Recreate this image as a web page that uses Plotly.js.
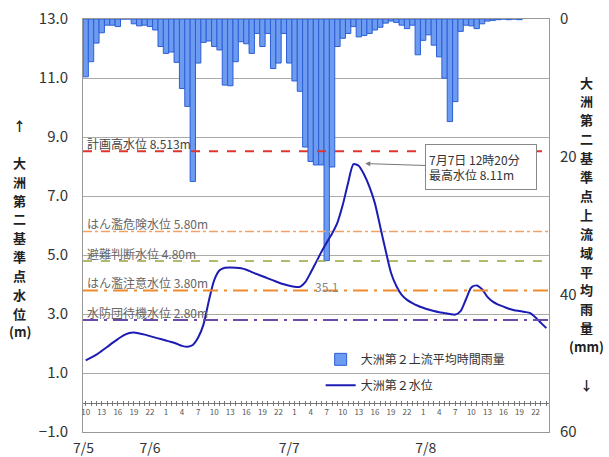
<!DOCTYPE html>
<html><head><meta charset="utf-8">
<script src="https://cdn.plot.ly/plotly-3.0.1.min.js"></script>
<style>html,body{margin:0;padding:0;background:#fff}#chart{width:609px;height:457px}</style>
</head><body><div id="chart"></div>
<script>
// hours counted from 7/5 0:00
const hours = [10,11,12,13,14,15,16,17,18,19,20,21,22,23,24,25,26,27,28,29,30,31,32,33,34,35,36,37,38,39,40,41,42,43,44,45,46,47,48,49,50,51,52,53,54,55,56,57,58,59,60,61,62,63,64,65,66,67,68,69,70,71,72,73,74,75,76,77,78,79,80,81,82,83,84,85,86,87,88,89,90,91,92,93,94,95,96];
const waterLevel = [1.43,1.52,1.62,1.75,1.88,2.02,2.15,2.27,2.35,2.37,
  2.34,2.30,2.25,2.20,2.15,2.10,2.05,1.99,1.92,1.89,
  1.95,2.20,2.65,3.45,4.15,4.48,4.57,4.58,4.57,4.55,
  4.50,4.42,4.35,4.28,4.21,4.14,4.07,4.01,3.96,3.92,
  3.92,4.08,4.40,4.75,5.10,5.42,5.73,6.10,6.70,7.45,
  8.08,8.02,7.72,7.30,6.75,5.95,5.15,4.40,3.95,3.65,
  3.48,3.37,3.28,3.21,3.15,3.10,3.06,3.03,3.00,2.98,
  3.10,3.50,3.90,3.97,3.84,3.58,3.42,3.32,3.25,3.18,
  3.13,3.10,3.07,3.03,2.88,2.70,2.52];
const rainHours = [10,11,12,13,14,15,16,17,18,19,20,21,22,23,24,25,26,27,28,29,30,31,32,33,34,35,36,37,38,39,40,41,42,43,44,45,46,47,48,49,50,51,52,53,54,55,56,57,58,59,60,61,62,63,64,65,66,67,68,69,70,71,72,73,74,75,76,77,78,79,80,81,82,83,84,85,86,87,88,89,90,91];
const rainfall = [8.4,6.2,3.5,2.0,0.9,0.9,1.1,0,0,0.7,
  1.0,0.9,1.1,1.6,4.0,5.0,4.8,6.3,10.1,12.7,
  23.6,6.4,3.4,3.2,4.0,4.5,9.6,9.7,6.2,3.3,
  3.6,5.0,2.1,4.0,2.1,7.2,6.4,2.1,6.4,9.0,
  10.5,18.6,20.7,21.2,21.2,35.1,21.5,4.0,2.8,2.1,
  1.1,2.6,2.4,2.1,1.6,1.2,0.6,0.3,0.5,0.9,
  1.4,0.9,5.2,3.1,2.3,3.8,5.5,8.6,14.9,12.0,
  1.8,0.9,1.0,1.4,0.7,0.3,0.2,0.1,0,0.1,
  0,0.1];
const hourTickVals = [10,13,16,19,22,25,28,31,34,37,40,43,46,49,52,55,58,61,64,67,70,73,76,79,82,85,88,91,94];
const hourTickText = ['10','13','16','19','22','1','4','7','10','13','16','19','22','1','4','7','10','13','16','19','22','1','4','7','10','13','16','19','22'];
const dateLabels = ['7/5','7/6','7/7','7/8'];
const dateTickHours = [9.6,22,48,73.5];
const levelTicks = [-1,1,3,5,7,9,11,13];
const rainTicks = [0,20,40,60];
const thresholdNames = ['計画高水位','はん濫危険水位','避難判断水位','はん濫注意水位','水防団待機水位'];
const thresholdLevels = [8.513,5.80,4.80,3.80,2.80];
const thresholdDecimals = [3,2,2,2,2];
const thresholdColors = ['#e3342c','#f2a064','#9aa23c','#f08a2c','#6a4ca8'];
const thresholdDashes = ['dash','dashdot','dash','longdashdot','longdashdot'];
const peakTime = 60.33;
const peakLevel = 8.11;
const peakLabel = '7月7日 12時20分';
const rainName = '大洲第２上流平均時間雨量';
const levelName = '大洲第２水位';
const leftTitle = ['↑','','大','洲','第','二','基','準','点','水','位','(m)'];
const rightTitle = ['大','洲','第','二','基','準','点','上','流','域','平','均','雨','量','(mm)','','↓'];

const FONT = '"Noto Sans CJK JP", "Noto Sans", sans-serif';
const XR = [9.5,96.5];
const LV = [-1,13];
const zeroPos = (0-LV[0])/(LV[1]-LV[0]);
const PLOT_H = 413, PLOT_W = 466, M_L = 83, M_T = 19;

const traces = [
  {type:'bar', x:rainHours, y:rainfall, name:rainName, xaxis:'x', yaxis:'y', width:1,
   marker:{color:'#6c9bf0', line:{color:'#2c5fd8', width:1}}, legendgroup:'r', hoverinfo:'skip'},
  {type:'scatter', mode:'lines', x:hours, y:waterLevel, name:levelName, xaxis:'x', yaxis:'y2',
   line:{color:'#1c1cb4', width:2, shape:'spline', smoothing:0.7}, legendgroup:'l', hoverinfo:'skip'},
  {type:'scatter', mode:'none', x:[hours[0]], y:[null], xaxis:'x2', yaxis:'y2', showlegend:false, hoverinfo:'skip'},
  {type:'scatter', mode:'none', x:[hours[0]], y:[null], xaxis:'x3', yaxis:'y2', showlegend:false, hoverinfo:'skip'},
  {type:'scatter', mode:'none', x:[hours[0]], y:[null], xaxis:'x4', yaxis:'y2', showlegend:false, hoverinfo:'skip'}
];

const shapes = thresholdLevels.map((lv,i)=>({
  type:'line', xref:'paper', x0:0, x1:1, yref:'y2', y0:lv, y1:lv,
  line:{color:thresholdColors[i], width:(i===0||i>=3)?2:1.5, dash:thresholdDashes[i]}
}));

const annotations = thresholdLevels.map((lv,i)=>({
  xref:'paper', x:0, xanchor:'left', xshift:2, yref:'y2', y:lv, yanchor:'bottom', yshift:-3,
  text:thresholdNames[i]+' '+lv.toFixed(thresholdDecimals[i])+'m', showarrow:false,
  font:{family:FONT, size:12, color:i===0?'#444':'#666'}
}));

annotations.push({
  xref:'x', x:peakTime, yref:'y2', y:peakLevel, text:peakLabel+'<br>最高水位 '+peakLevel.toFixed(2)+'m',
  showarrow:true, ax:126, ay:4, arrowhead:2, arrowsize:1, arrowwidth:1, arrowcolor:'#777', standoff:10,
  bgcolor:'#fff', bordercolor:'#888', borderwidth:1, borderpad:3, align:'left', width:104, height:38,
  font:{family:FONT, size:12, color:'#333'}
});

const maxRain = Math.max(...rainfall);
const maxIdx = rainfall.indexOf(maxRain);
annotations.push({
  xref:'x', x:rainHours[maxIdx], yref:'y', y:maxRain, yanchor:'top', yshift:-15, showarrow:false,
  text:maxRain.toFixed(1), font:{family:FONT, size:12, color:'#888'}
});

// vertical axis titles, one glyph per line
function addVertical(chars, xPx, firstYPx, stepPx) {
  chars.forEach((c,k)=>{
    if (!c) return;
    annotations.push({
      xref:'paper', x:(xPx-M_L)/PLOT_W, xanchor:'center',
      yref:'paper', y:1-(firstYPx+k*stepPx-M_T)/PLOT_H, yanchor:'middle',
      showarrow:false, text:c, borderpad:0,
      font:{family:FONT, size:13, color:'#222', weight:'bold'}
    });
  });
}
addVertical(leftTitle, 20, 125, 18.8);
addVertical(rightTitle, 586, 82, 18.9);

const hourAxisBase = {overlaying:'x', anchor:'free', position:zeroPos, range:XR, showgrid:false, zeroline:false, side:'bottom'};

const layout = {
  width:609, height:457,
  margin:{l:83, r:60, t:19, b:25, pad:0},
  paper_bgcolor:'#fff', plot_bgcolor:'#fff',
  font:{family:FONT, color:'#333'},
  showlegend:true,
  legend:{x:0.51, xanchor:'left', y:0.211, yanchor:'top', bgcolor:'rgba(0,0,0,0)',
    font:{family:FONT, size:12, color:'#333'}, traceorder:'grouped', tracegroupgap:7},
  bargap:0,
  xaxis:{range:XR, tickvals:dateTickHours, ticktext:dateLabels, ticks:'', showgrid:false, zeroline:false,
    showline:true, linecolor:'#999', linewidth:1, mirror:true, tickfont:{family:FONT, size:14, color:'#333'},
    ticklabelstandoff:3},
  xaxis2:Object.assign({}, hourAxisBase, {tickvals:hourTickVals, ticktext:hourTickText, ticks:'',
    showline:true, linecolor:'#777', linewidth:1, tickfont:{family:FONT, size:8, color:'#555'}, ticklabelstandoff:2}),
  xaxis3:Object.assign({}, hourAxisBase, {tick0:10, dtick:1, ticks:'outside', ticklen:2, tickcolor:'#777',
    showticklabels:false, showline:false}),
  xaxis4:Object.assign({}, hourAxisBase, {tick0:10, dtick:1, ticks:'inside', ticklen:2, tickcolor:'#777',
    showticklabels:false, showline:false}),
  yaxis:{side:'right', range:[60,0], tickvals:rainTicks, showgrid:false, zeroline:false, showline:true, mirror:true,
    linecolor:'#999', ticks:'', tickfont:{family:FONT, size:15, color:'#333'}, ticklabelstandoff:7},
  yaxis2:{overlaying:'y', side:'left', range:LV, tickvals:levelTicks, tickformat:'.1f', showgrid:true,
    gridcolor:'#aaa', gridwidth:1, zeroline:false, showline:false, ticks:'',
    tickfont:{family:FONT, size:15, color:'#333'}, ticklabelstandoff:14},
  shapes:shapes,
  annotations:annotations
};

Plotly.newPlot('chart', traces, layout, {displayModeBar:false, staticPlot:true});
</script></body></html>
